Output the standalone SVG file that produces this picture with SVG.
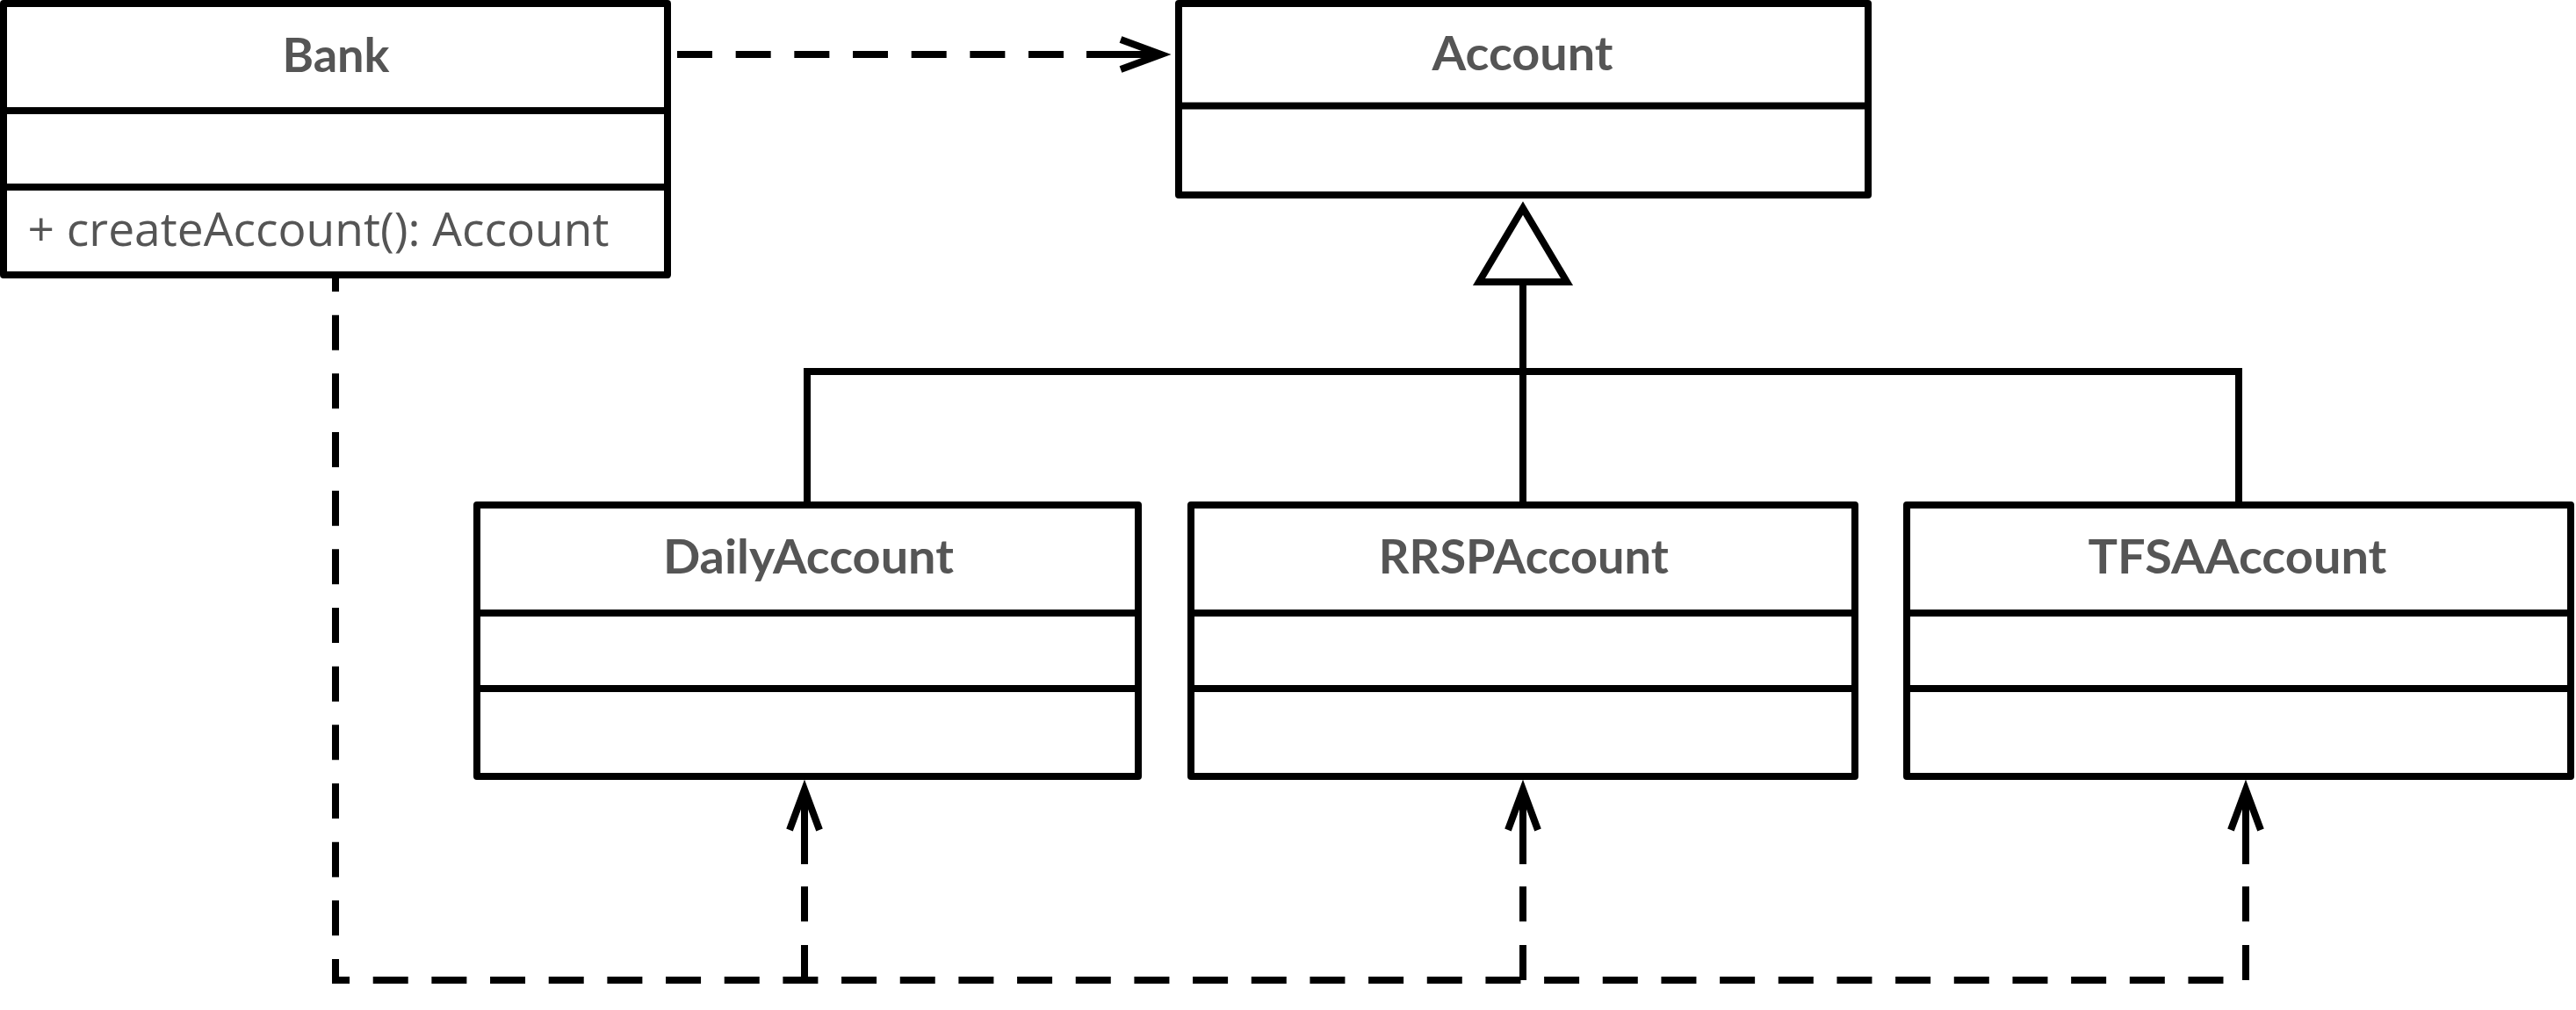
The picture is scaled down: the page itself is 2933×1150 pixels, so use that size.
<svg xmlns="http://www.w3.org/2000/svg" width="2933" height="1150" viewBox="0 0 2933 1150">
  <style>
    .box { fill: #fff; stroke: #000; stroke-width: 8; stroke-linejoin: round; }
    .div { stroke: #000; stroke-width: 8; }
    .title { font-family: Lato, "Liberation Sans", sans-serif; font-weight: bold; font-size: 54px; fill: #555555; text-anchor: middle; }
    .member { font-family: "Open Sans", "Liberation Sans", sans-serif; font-size: 53px; fill: #555555; }
    .solid { fill: none; stroke: #000; stroke-width: 8; stroke-linejoin: miter; }
    .dash { fill: none; stroke: #000; stroke-width: 8; stroke-dasharray: 40 26.67; stroke-linejoin: miter; }
  </style>
  <defs>
    <marker id="open" markerUnits="userSpaceOnUse" orient="auto" viewBox="-60 -30 80 60" markerWidth="80" markerHeight="60" refX="0" refY="0" overflow="visible">
      <path d="M-46,-17 L0,0 L-46,17" fill="none" stroke="#000" stroke-width="8" stroke-linejoin="miter"/>
    </marker>
  </defs>
  <rect width="2933" height="1150" fill="#fff"/>

  <g id="connectors">
    <!-- inheritance -->
    <path class="solid" d="M919,575 V423 H2549 V575"/>
    <path class="solid" d="M1734,321 V575"/>
    <polygon class="solid" fill="#fff" points="1734,237 1684,321 1784,321" style="fill:#fff"/>
    <!-- Bank -> Account dependency -->
    <path class="dash" d="M771,62 H1237.7"/>
    <path class="solid" d="M1237,62 H1322" marker-end="url(#open)"/>
    <!-- Bank -> concrete accounts -->
    <path class="dash" d="M382,313 V1116 H2557" style="stroke-dashoffset:21"/>
    <path class="dash" d="M916,1116 V983"/>
    <path class="solid" d="M916,984 V899" marker-end="url(#open)"/>
    <path class="dash" d="M1734,1116 V983"/>
    <path class="solid" d="M1734,984 V899" marker-end="url(#open)"/>
    <path class="dash" d="M2557,1116 V983"/>
    <path class="solid" d="M2557,984 V899" marker-end="url(#open)"/>
  </g>

  <g id="Bank">
    <rect class="box" x="4" y="4" width="756" height="309"/>
    <line class="div" x1="4" y1="126" x2="760" y2="126"/>
    <line class="div" x1="4" y1="213" x2="760" y2="213"/>
    <text class="title" x="382.5" y="82" textLength="122" lengthAdjust="spacingAndGlyphs">Bank</text>
    <text class="member" x="31.5" y="280" textLength="662" lengthAdjust="spacingAndGlyphs">+ createAccount(): Account</text>
  </g>

  <g id="Account">
    <rect class="box" x="1342" y="4" width="785" height="218"/>
    <line class="div" x1="1342" y1="120.5" x2="2127" y2="120.5"/>
    <text class="title" x="1733.6" y="79.5" textLength="206" lengthAdjust="spacingAndGlyphs">Account</text>
  </g>

  <g id="DailyAccount">
    <rect class="box" x="543" y="575" width="753" height="309"/>
    <line class="div" x1="543" y1="698" x2="1296" y2="698"/>
    <line class="div" x1="543" y1="784" x2="1296" y2="784"/>
    <text class="title" x="920.4" y="653" textLength="331" lengthAdjust="spacingAndGlyphs">DailyAccount</text>
  </g>

  <g id="RRSPAccount">
    <rect class="box" x="1356" y="575" width="756" height="309"/>
    <line class="div" x1="1356" y1="698" x2="2112" y2="698"/>
    <line class="div" x1="1356" y1="784" x2="2112" y2="784"/>
    <text class="title" x="1734.8" y="653" textLength="330" lengthAdjust="spacingAndGlyphs">RRSPAccount</text>
  </g>

  <g id="TFSAAccount">
    <rect class="box" x="2171" y="575" width="756" height="309"/>
    <line class="div" x1="2171" y1="698" x2="2927" y2="698"/>
    <line class="div" x1="2171" y1="784" x2="2927" y2="784"/>
    <text class="title" x="2547.4" y="653" textLength="340" lengthAdjust="spacingAndGlyphs">TFSAAccount</text>
  </g>
</svg>
